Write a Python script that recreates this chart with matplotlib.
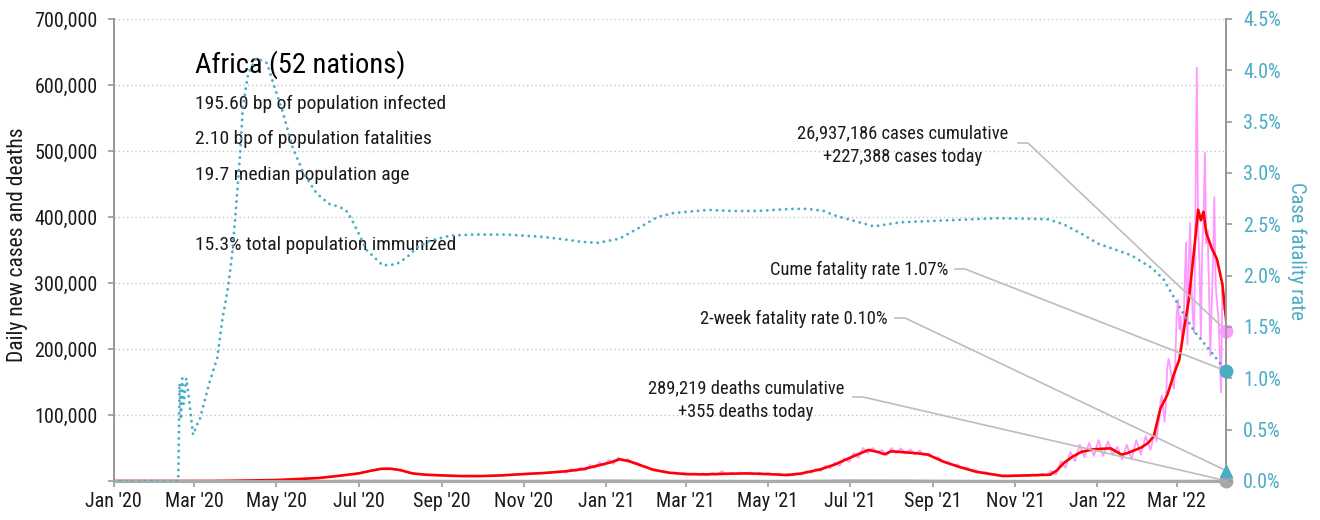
import numpy as np
import pandas as pd
import matplotlib
matplotlib.use("Agg")
import matplotlib.pyplot as plt
import matplotlib.dates as mdates
from matplotlib.lines import Line2D
from matplotlib.ticker import FuncFormatter, MultipleLocator

plt.rcParams['font.family'] = ['Roboto Condensed', 'DejaVu Sans']

# ---------------------------------------------------------------- data
# 7-day average of new cases (thousands)
avg_dates = [
    '2020-01-01', '2020-02-14', '2020-03-01', '2020-03-15', '2020-04-01', '2020-04-15',
    '2020-05-01', '2020-05-15', '2020-06-01', '2020-06-15', '2020-07-01', '2020-07-10',
    '2020-07-18', '2020-07-25', '2020-08-01', '2020-08-10', '2020-08-20', '2020-09-01',
    '2020-09-15', '2020-10-01', '2020-10-15', '2020-11-01', '2020-11-15', '2020-12-01',
    '2020-12-15', '2020-12-25', '2021-01-04', '2021-01-11', '2021-01-18', '2021-01-25',
    '2021-02-05', '2021-02-17', '2021-03-01', '2021-03-15', '2021-04-01', '2021-04-15',
    '2021-05-01', '2021-05-15', '2021-05-25', '2021-06-09', '2021-06-20', '2021-07-01',
    '2021-07-09', '2021-07-15', '2021-07-22', '2021-07-27', '2021-08-01', '2021-08-11',
    '2021-08-20', '2021-08-28', '2021-09-09', '2021-09-21', '2021-10-03', '2021-10-23',
    '2021-11-10', '2021-11-27', '2021-12-02', '2021-12-07', '2021-12-13', '2021-12-20',
    '2021-12-29', '2022-01-11', '2022-01-19', '2022-01-23', '2022-01-28', '2022-02-03',
    '2022-02-08', '2022-02-12', '2022-02-17', '2022-02-22', '2022-02-27', '2022-03-03',
    '2022-03-06', '2022-03-10', '2022-03-14', '2022-03-17', '2022-03-19', '2022-03-21',
    '2022-03-23', '2022-03-27', '2022-03-31', '2022-04-04', '2022-04-07',
]
avg_cases_k = [
    0, 0, 0.01, 0.05, 0.4, 0.9,
    1.5, 2.8, 4.5, 7.5, 11.5, 15.5,
    18.5, 18.5, 16.5, 11.5, 9.5, 8.5,
    7.5, 7.5, 8.5, 10.5, 12.0, 14.5,
    18, 23, 28, 33, 30, 25,
    17, 12.5, 10.5, 10, 11, 11.5,
    10.5, 9, 11, 17.5, 25, 35,
    42, 47, 44, 40.5, 45, 43.5,
    42, 40, 29, 21, 14, 7.5,
    8.5, 9.5, 16, 27, 36, 44,
    48, 49.5, 40, 42, 46, 51,
    58, 68, 110, 130, 162, 184,
    224, 274, 350, 411, 395, 408,
    376, 353, 336, 298, 240,
]

# daily new cases (thousands): weekly readings in 2020, twice-weekly from
# late 2020, then every day through the spring 2022 surge
daily_weekly_k = [
    0, 0, 0, 0, 0, 0, 0, 0, 0, 0, 0.02, 0.1,
    0.2, 0.4, 0.6, 0.9, 1.1, 1.5, 2.0, 2.6, 3.2, 4.0, 4.8, 6.3,
    8.0, 9.5, 11.5, 14.5, 17.5, 19.5, 18.0, 14.0, 11.0, 9.8, 8.8, 8.3,
    7.8, 7.4, 7.0, 7.5, 8.0, 8.5, 9.3, 10.5, 11.5, 12.0, 12.5, 13.5,
]
daily_halfweek_k = [
    15.5, 12.5, 18, 14.5, 20.5, 16, 24.5, 19.5, 28.5, 23, 32, 26,
    35.5, 30.5, 33.5, 28, 28, 23, 22, 18, 17.5, 14.5, 14.5, 12,
    13, 10.5, 12, 9.5, 11.5, 9.5, 11.5, 9, 12, 9.5, 15, 10,
    12.5, 10, 13, 10.5, 13, 10.5, 12.5, 10, 12, 9.5, 11.5, 9,
    10.5, 8.5, 12, 9.5, 15, 12, 18.5, 15, 23, 19, 28, 23,
    34.5, 29, 42, 35, 50, 42, 50, 43, 47, 39, 50, 42,
    49.5, 41, 48, 40, 46.5, 38.5, 42, 35, 36, 29.5, 29, 24,
    25, 20, 20.5, 16, 16.5, 12.5, 13.5, 10, 10.5, 8, 9, 6.5,
    9, 7, 9.5, 7.5, 10, 8, 11, 8.5, 15, 10, 30, 20,
    44, 30, 55, 36, 58, 38, 62, 38, 60, 40, 52, 33,
    55, 33, 62, 40, 68, 47, 75,
]
daily_recent_k = [
    60, 80, 95, 120, 130, 110, 90, 115, 170, 185, 175, 160, 150, 140, 180,
    250, 275, 230, 250, 210, 220, 300, 361, 207, 330, 391, 300, 250, 225, 410,
    626, 380, 330, 215, 350, 400, 497, 360, 380, 300, 190, 260, 330, 430, 300,
    270, 250, 200, 134, 290, 260, 280, 227.388,
]

# daily deaths (thousands)
death_dates = [
    '2020-01-01', '2020-02-01', '2020-03-01', '2020-04-01', '2020-05-01', '2020-06-01',
    '2020-07-01', '2020-08-01', '2020-09-01', '2020-10-01', '2020-11-01', '2020-12-01',
    '2021-01-01', '2021-02-01', '2021-03-01', '2021-04-01', '2021-05-01', '2021-06-01',
    '2021-07-01', '2021-08-01', '2021-09-01', '2021-10-01', '2021-11-01', '2021-12-01',
    '2022-01-01', '2022-02-01', '2022-03-01', '2022-04-07',
]
deaths_k = [
    0, 0, 0.01, 0.05, 0.08, 0.2, 0.45, 0.4, 0.25, 0.2, 0.25, 0.4,
    0.8, 0.5, 0.3, 0.25, 0.2, 0.35, 0.9, 0.8, 0.5, 0.25, 0.15, 0.2,
    0.3, 0.3, 0.25, 0.355,
]

# cumulative case fatality rate (%)
cfr_dates = [
    '2020-01-01', '2020-02-18', '2020-02-19', '2020-02-20', '2020-02-21', '2020-02-22',
    '2020-02-24', '2020-02-26', '2020-02-29', '2020-03-03', '2020-03-05', '2020-03-12',
    '2020-03-18', '2020-03-22', '2020-03-26', '2020-03-29', '2020-04-01', '2020-04-04',
    '2020-04-06', '2020-04-10', '2020-04-16', '2020-04-24', '2020-04-28', '2020-05-06',
    '2020-05-13', '2020-05-21', '2020-05-31', '2020-06-09', '2020-06-17', '2020-06-23',
    '2020-06-30', '2020-07-07', '2020-07-15', '2020-07-19', '2020-07-29', '2020-08-06',
    '2020-08-13', '2020-08-23', '2020-09-07', '2020-09-24', '2020-10-19', '2020-11-13',
    '2020-12-03', '2020-12-13', '2020-12-26', '2021-01-11', '2021-01-26', '2021-02-08',
    '2021-02-20', '2021-03-18', '2021-04-04', '2021-04-24', '2021-05-18', '2021-05-31',
    '2021-06-12', '2021-06-19', '2021-06-27', '2021-07-19', '2021-08-08', '2021-09-14',
    '2021-10-19', '2021-11-25', '2021-12-07', '2021-12-20', '2022-01-02', '2022-01-26',
    '2022-02-10', '2022-02-19', '2022-02-27', '2022-03-06', '2022-03-14', '2022-03-24',
    '2022-04-01', '2022-04-07',
]
cfr_pct = [
    0, 0, 0.95, 0.6, 1.0, 0.75,
    1.0, 0.8, 0.45, 0.55, 0.6, 0.95,
    1.2, 1.59, 1.88, 2.2, 2.67, 3.19,
    3.64, 3.97, 4.12, 4.07, 3.9, 3.58,
    3.25, 3.0, 2.8, 2.7, 2.67, 2.62,
    2.44, 2.25, 2.15, 2.1, 2.11, 2.18,
    2.27, 2.34, 2.39, 2.4, 2.4, 2.38,
    2.35, 2.33, 2.32, 2.36, 2.47, 2.57,
    2.61, 2.64, 2.63, 2.63, 2.65, 2.65,
    2.63, 2.59, 2.56, 2.48, 2.52, 2.54,
    2.56, 2.55, 2.5, 2.41, 2.31, 2.2,
    2.08, 1.97, 1.79, 1.63, 1.46, 1.3,
    1.17, 1.07,
]

region = 'Africa (52 nations)'
stats_lines = [
    '195.60 bp of population infected',
    '2.10 bp of population fatalities',
    '19.7 median population age',
    '15.3% total population immunized',
]
last_date = '2022-04-07'
cases_today = 227388
cases_total = 26937186
deaths_today = 355
deaths_total = 289219
cume_cfr = 1.07
two_week_cfr = 0.10

# ---------------------------------------------------------------- style
PINK = '#ff99ff'
RED = '#ff0000'
TEAL = '#4bacc6'
GREY = '#a6a6a6'
AXIS = '#999999'
CONNECT = '#bdbdbd'
INK = '#1a1a1a'

fig = plt.figure(figsize=(13.2, 5.2), dpi=100)
ax = fig.add_axes([0.0861, 0.075, 0.843, 0.8885])
ax2 = ax.twinx()

avg_x = pd.to_datetime(avg_dates)
daily_x = (pd.date_range('2020-01-01', periods=len(daily_weekly_k), freq='7D')
           .append(pd.date_range('2020-11-29', periods=len(daily_halfweek_k), freq='84h'))
           .append(pd.date_range('2022-02-14', periods=len(daily_recent_k), freq='D')))
daily_y = np.array(daily_weekly_k + daily_halfweek_k + daily_recent_k) * 1000
end = pd.Timestamp(last_date)

ax.plot(pd.to_datetime(death_dates), np.array(deaths_k) * 1000, color=GREY, lw=1.5, zorder=2)
ax.plot(daily_x, daily_y, color=PINK, lw=1.3, zorder=3)
ax.plot(avg_x, np.array(avg_cases_k) * 1000, color=RED, lw=1.9, zorder=4)
ax2.plot(pd.to_datetime(cfr_dates), cfr_pct, color=TEAL, lw=2.1,
         linestyle=(0, (0.01, 2.15)), dash_capstyle='round', zorder=3)

# end-of-series markers
ax.plot([end], [cases_today], 'o', color=PINK, ms=9, clip_on=False, zorder=6)
ax.plot([end], [deaths_today], 'o', color=GREY, ms=9, clip_on=False, zorder=6)
ax2.plot([end], [cume_cfr], 'o', color=TEAL, ms=9, clip_on=False, zorder=6)
ax2.plot([end], [two_week_cfr], '^', color=TEAL, ms=9, clip_on=False, zorder=6)

# axes ranges and ticks
ax.set_xlim(pd.Timestamp('2020-01-01'), end)
ax.set_ylim(0, 700000)
ax2.set_ylim(0, 4.5)
ax.yaxis.set_major_locator(MultipleLocator(100000))
ax.yaxis.set_major_formatter(FuncFormatter(lambda v, p: '' if v == 0 else f'{v:,.0f}'))
ax2.yaxis.set_major_locator(MultipleLocator(0.5))
ax2.yaxis.set_major_formatter(FuncFormatter(lambda v, p: f'{v:.1f}%'))
ax.xaxis.set_major_locator(mdates.MonthLocator(bymonth=[1, 3, 5, 7, 9, 11]))
ax.xaxis.set_major_formatter(mdates.DateFormatter("%b '%y"))

ax.grid(axis='y', color='#c4c4c4', lw=1.0, linestyle=(0, (1, 2)))
ax.set_axisbelow(True)

for a in (ax, ax2):
    a.spines['top'].set_visible(False)
    a.spines['left'].set_color(AXIS)
    a.spines['right'].set_color(AXIS)
    a.spines['left'].set_linewidth(1.3)
    a.spines['right'].set_linewidth(1.3)
    a.spines['bottom'].set_color('#aaaaaa')
    a.spines['bottom'].set_linewidth(2.2)

ax.tick_params(axis='y', length=4.5, width=1.2, color=AXIS, pad=7, labelsize=14.5, labelcolor=INK)
ax.tick_params(axis='x', length=4.5, width=1.2, color=AXIS, pad=3.5, labelsize=14.5, labelcolor=INK)
ax2.tick_params(axis='y', length=4.5, width=1.2, color=AXIS, pad=7.5, labelsize=14.5, labelcolor=TEAL)

fig.text(0.0129, 0.529, 'Daily new cases and deaths', rotation=90, ha='center', va='center',
         fontsize=15.5, color=INK)
fig.text(0.9826, 0.518, 'Case fatality rate', rotation=270, ha='center', va='center',
         fontsize=14.8, color=TEAL)

# headline block
ax.text(0.0731, 0.9004, region, transform=ax.transAxes, ha='left', va='center',
        fontsize=20.5, color='#000000')
for line, yy in zip(stats_lines, [0.816, 0.740, 0.662, 0.511]):
    ax.text(0.0731, yy, line, transform=ax.transAxes, ha='left', va='center',
            fontsize=14, color=INK)

# callouts joined to the end markers
fig.canvas.draw()
to_axes = ax.transAxes.inverted()


def callout(label, tx, ty, ha, start, series_ax, value):
    ax.text(tx, ty, label, transform=ax.transAxes, ha=ha, va='center', multialignment='center',
            fontsize=13.3, color=INK, linespacing=1.4)
    px, py = to_axes.transform(series_ax.transData.transform((mdates.date2num(end), value)))
    sx, sy = start
    ax.add_line(Line2D([sx, sx + 0.009, px], [sy, sy, py], transform=ax.transAxes,
                       color=CONNECT, lw=1.2, clip_on=False, zorder=5))


callout(f'{cases_total:,} cases cumulative\n+{cases_today:,} cases today',
        0.7094, 0.7262, 'center', (0.8127, 0.7316), ax, cases_today)
callout(f'Cume fatality rate {cume_cfr:.2f}%', 0.7498, 0.4567, 'right',
        (0.7561, 0.4589), ax2, cume_cfr)
callout(f'2-week fatality rate {two_week_cfr:.2f}%', 0.6951, 0.3506, 'right',
        (0.7022, 0.3528), ax2, two_week_cfr)
callout(f'{deaths_total:,} deaths cumulative\n+{deaths_today:,} deaths today',
        0.5682, 0.1753, 'center', (0.6645, 0.1818), ax, deaths_today)

fig.savefig('out.png', dpi=100)
